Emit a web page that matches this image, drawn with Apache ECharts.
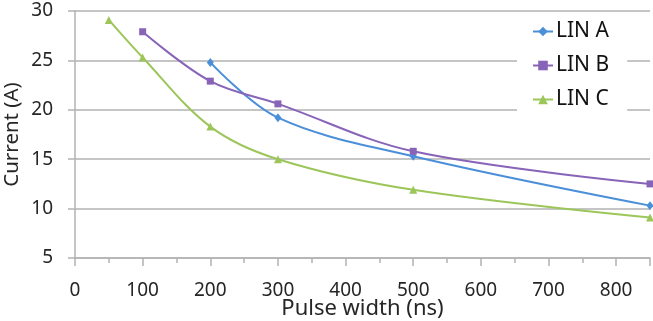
<!DOCTYPE html>
<html>
<head>
<meta charset="utf-8">
<script src="https://cdn.jsdelivr.net/npm/echarts@6/dist/echarts.min.js"></script>
<style>
html,body{margin:0;padding:0;background:#fff;}
#chart{width:653px;height:321px;}
</style>
</head>
<body>
<div id="chart"></div>
<script>
// Data
const seriesNames = ['LIN A', 'LIN B', 'LIN C'];
const linA_x = [200, 300, 500, 850];
const linA_y = [24.8, 19.2, 15.3, 10.3];
const linB_x = [100, 200, 300, 500, 850];
const linB_y = [27.9, 22.9, 20.6, 15.8, 12.5];
const linC_x = [50, 100, 200, 300, 500, 850];
const linC_y = [29.1, 25.3, 18.3, 15.0, 11.9, 9.1];
const xTicks = [0, 100, 200, 300, 400, 500, 600, 700, 800];
const yTicks = [5, 10, 15, 20, 25, 30];

function pairs(xs, ys) { return xs.map((x, i) => [x, ys[i]]); }

const colors = ['#4a8fd8', '#8864b8', '#9cc65a'];
const symbols = ['diamond', 'rect', 'triangle'];
const symbolSizes = [[7, 9], 7, 8];
const dataSets = [pairs(linA_x, linA_y), pairs(linB_x, linB_y), pairs(linC_x, linC_y)];

const gray = '#b2b2b2';
const font = 'Noto Sans';

const chart = echarts.init(document.getElementById('chart'), null, {renderer: 'canvas'});
chart.setOption({
  animation: false,
  backgroundColor: '#fff',
  grid: {left: 75, right: 3, top: 11, bottom: 63, containLabel: false, outerBoundsMode: 'none'},
  xAxis: {
    type: 'value',
    min: 0, max: 850, interval: 100,
    name: 'Pulse width (ns)',
    nameLocation: 'middle',
    nameGap: 40,
    nameMoveOverlap: false,
    nameTextStyle: {fontFamily: font, fontSize: 22, color: '#262626'},
    axisLine: {show: true, lineStyle: {color: gray, width: 1.5}},
    axisTick: {show: true, length: 8, lineStyle: {color: gray, width: 1.5}},
    minorTick: {show: true, splitNumber: 2, length: 5, lineStyle: {color: gray, width: 1.5}},
    splitLine: {show: false},
    axisLabel: {
      fontFamily: font, fontSize: 19, color: '#262626', margin: 23,
      formatter: v => xTicks.indexOf(v) >= 0 ? String(v) : ''
    }
  },
  yAxis: {
    type: 'value',
    min: 5, max: 30, interval: 5,
    name: 'Current (A)',
    nameLocation: 'middle',
    nameGap: 52,
    nameMoveOverlap: false,
    nameTextStyle: {fontFamily: font, fontSize: 20.5, color: '#262626'},
    axisLine: {show: true, lineStyle: {color: gray, width: 1.5}},
    axisTick: {show: true, length: 7, lineStyle: {color: gray, width: 1.5}},
    splitLine: {show: true, lineStyle: {color: gray, width: 1.5}},
    axisLabel: {
      fontFamily: font, fontSize: 19, color: '#262626', margin: 22,
      formatter: v => yTicks.indexOf(v) >= 0 ? String(v) : ''
    }
  },
  legend: {
    orient: 'vertical',
    left: 517,
    top: 13,
    padding: [8, 18, 12, 15],
    backgroundColor: '#fff',
    itemWidth: 20,
    itemHeight: 12,
    itemGap: 13,
    data: seriesNames,
    textStyle: {fontFamily: font, fontSize: 21, color: '#111', padding: [0, 0, 0, -2], lineHeight: 21}
  },
  series: seriesNames.map((name, i) => ({
    name: name,
    type: 'line',
    data: dataSets[i],
    smooth: 0.35,
    symbol: symbols[i],
    symbolSize: symbolSizes[i],
    showAllSymbol: true,
    itemStyle: {color: colors[i]},
    lineStyle: {color: colors[i], width: 2}
  }))
});
</script>
</body>
</html>
